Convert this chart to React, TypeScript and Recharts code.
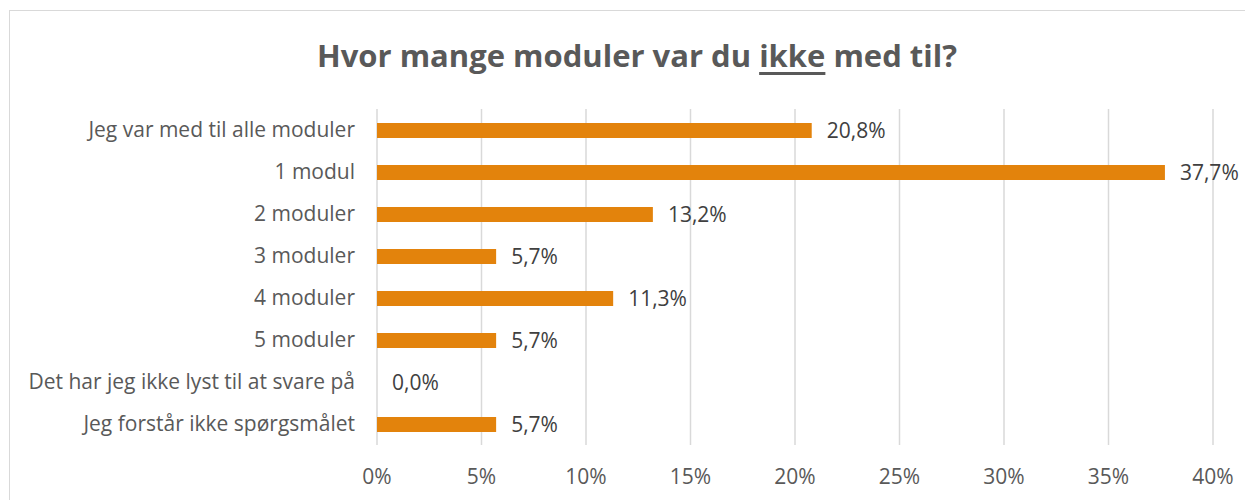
import React from 'react';
import { BarChart, Bar, XAxis, YAxis, CartesianGrid, LabelList } from 'recharts';

const categories = [
  'Jeg var med til alle moduler',
  '1 modul',
  '2 moduler',
  '3 moduler',
  '4 moduler',
  '5 moduler',
  'Det har jeg ikke lyst til at svare på',
  'Jeg forstår ikke spørgsmålet',
];
const shares = [20.8, 37.7, 13.2, 5.7, 11.3, 5.7, 0.0, 5.7];
const xTicks = [0, 5, 10, 15, 20, 25, 30, 35, 40];

const data = categories.map((name, i) => ({
  name,
  value: shares[i],
  label: `${shares[i].toFixed(1).replace('.', ',')}%`,
}));

const font = '"Open Sans", sans-serif';

export default function App() {
  return (
    <div style={{ position: 'relative', width: 1245, height: 492, overflow: 'hidden', fontFamily: font }}>
      {/* chart frame, only top and left edges visible in the crop */}
      <div
        style={{
          position: 'absolute',
          left: 1,
          top: 2,
          width: 1300,
          height: 600,
          border: '1.5px solid #d9d9d9',
          boxSizing: 'border-box',
        }}
      />
      <div
        style={{
          position: 'absolute',
          left: 0,
          top: 26,
          width: 1258,
          textAlign: 'center',
          fontSize: 31,
          fontWeight: 700,
          color: '#595959',
          lineHeight: '42px',
        }}
      >
        Hvor mange moduler var du <u style={{ textUnderlineOffset: 5 }}>ikke</u> med til?
      </div>
      <BarChart
        width={1245}
        height={492}
        data={data}
        layout="vertical"
        margin={{ top: 101, right: 40, left: 0, bottom: 0 }}
        style={{ position: 'absolute', left: 0, top: 0 }}
      >
        <CartesianGrid horizontal={false} stroke="#d9d9d9" strokeWidth={1.5} />
        <XAxis
          type="number"
          domain={[0, 40]}
          ticks={xTicks}
          tickFormatter={(v) => `${v}%`}
          axisLine={false}
          tickLine={false}
          tickSize={0}
          tickMargin={24}
          height={55}
          tick={{ fill: '#595959', fontSize: 21, fontFamily: font }}
        />
        <YAxis
          type="category"
          dataKey="name"
          width={369}
          interval={0}
          axisLine={false}
          tickLine={false}
          tickSize={0}
          tickMargin={22}
          tick={{ fill: '#595959', fontSize: 21, fontFamily: font }}
        />
        <Bar dataKey="value" fill="#E3830C" barSize={15} minPointSize={0.01} isAnimationActive={false}>
          <LabelList
            dataKey="label"
            position="right"
            offset={15}
            style={{ fill: '#404040', fontSize: 21, fontFamily: font }}
          />
        </Bar>
      </BarChart>
    </div>
  );
}
